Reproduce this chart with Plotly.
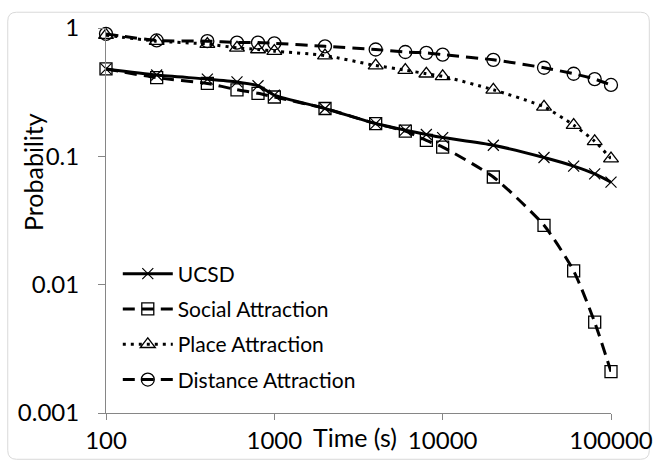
import plotly.graph_objects as go

# ---- data ----
time_s = [100, 200, 400, 600, 800, 1000, 2000, 4000, 6000, 8000, 10000,
          20000, 40000, 60000, 80000, 100000]

ucsd = [0.48, 0.43, 0.40, 0.38, 0.355, 0.30, 0.236, 0.18, 0.16, 0.148, 0.14,
        0.122, 0.098, 0.084, 0.073, 0.063]
social = [0.48, 0.41, 0.37, 0.33, 0.31, 0.29, 0.236, 0.18, 0.157, 0.133, 0.118,
          0.069, 0.029, 0.0128, 0.0051, 0.0021]
place = [0.88, 0.79, 0.75, 0.70, 0.68, 0.66, 0.61, 0.51, 0.47, 0.44, 0.42,
         0.33, 0.243, 0.175, 0.131, 0.096]
distance = [0.9, 0.8, 0.79, 0.77, 0.77, 0.76, 0.72, 0.68, 0.65, 0.64, 0.62,
            0.565, 0.49, 0.44, 0.40, 0.36]

x_tick_vals = [100, 1000, 10000, 100000]
x_tick_text = ["100", "1000", "10000", "100000"]
y_tick_vals = [0.001, 0.01, 0.1, 1]
y_tick_text = ["0.001", "0.01", "0.1", "1"]

FONT = "Lato, 'Open Sans', sans-serif"

fig = go.Figure()

series = [
    ("UCSD", ucsd, "solid", "x-thin-open", 11, 1.2),
    ("Social Attraction", social, "12px,7px", "square-open", 12, 1.3),
    ("Place Attraction", place, "3px,5px", "triangle-up-open", 13, 1.3),
    ("Distance Attraction", distance, "12px,7px", "circle-open", 13, 1.3),
]

for name, vals, dash, sym, msize, mw in series:
    fig.add_trace(go.Scatter(
        x=time_s, y=vals, name=name, legendgroup=name,
        mode="lines+markers",
        line=dict(color="black", width=3, dash=dash, shape="spline", smoothing=0.6),
        marker=dict(symbol=sym, size=msize, color="black",
                    line=dict(color="black", width=mw)),
        cliponaxis=False,
    ))

fig.update_layout(
    width=665, height=466,
    margin=dict(l=106, r=45, t=22, b=53),
    paper_bgcolor="white", plot_bgcolor="white",
    font=dict(family=FONT, color="black"),
    showlegend=True,
    legend=dict(
        x=(118 - 106) / 514, y=(413 - 251) / 391,
        xanchor="left", yanchor="top",
        bgcolor="rgba(255,255,255,0)",
        font=dict(size=21, family=FONT, color="black"),
        tracegroupgap=5, itemwidth=50,
    ),
    xaxis=dict(
        type="log", range=[2, 5],
        tickvals=x_tick_vals, ticktext=x_tick_text,
        showgrid=False, zeroline=False,
        showline=True, linecolor="#868686", linewidth=1,
        ticks="outside", ticklen=6, tickcolor="#868686",
        tickfont=dict(size=24, family=FONT, color="black"),
    ),
    yaxis=dict(
        type="log", range=[-3, 0],
        tickvals=y_tick_vals, ticktext=y_tick_text,
        showgrid=False, zeroline=False,
        showline=True, linecolor="#868686", linewidth=1,
        ticks="outside", ticklen=7, tickcolor="#868686",
        ticklabelstandoff=14,
        tickfont=dict(size=24, family=FONT, color="black"),
    ),
    annotations=[
        dict(text="Time (s)", xref="paper", yref="paper",
             x=(359 - 106) / 514, y=(413 - 437) / 391,
             xanchor="center", yanchor="middle", showarrow=False,
             font=dict(size=25, family=FONT, color="black")),
        dict(text="Probability", xref="paper", yref="paper",
             x=(31 - 106) / 514, y=(413 - 168) / 391,
             xanchor="center", yanchor="middle", showarrow=False, textangle=-90,
             font=dict(size=25, family=FONT, color="black")),
    ],
)

# rounded chart border (decoration)
def px_x(p):
    return (p - 106) / 514

def px_y(p):
    return (413 - p) / 391

L, R, T, B, r = 6, 659, 6, 460, 9
path = (
    f"M {px_x(L + r)},{px_y(T)} L {px_x(R - r)},{px_y(T)} "
    f"Q {px_x(R)},{px_y(T)} {px_x(R)},{px_y(T + r)} "
    f"L {px_x(R)},{px_y(B - r)} Q {px_x(R)},{px_y(B)} {px_x(R - r)},{px_y(B)} "
    f"L {px_x(L + r)},{px_y(B)} Q {px_x(L)},{px_y(B)} {px_x(L)},{px_y(B - r)} "
    f"L {px_x(L)},{px_y(T + r)} Q {px_x(L)},{px_y(T)} {px_x(L + r)},{px_y(T)} Z"
)
fig.add_shape(type="path", path=path, xref="paper", yref="paper",
              line=dict(color="#d9d9d9", width=1), layer="below")

fig.write_html("out.html",
               config={"displayModeBar": False},
               post_script="document.body.style.margin='0';document.body.style.padding='0';")
